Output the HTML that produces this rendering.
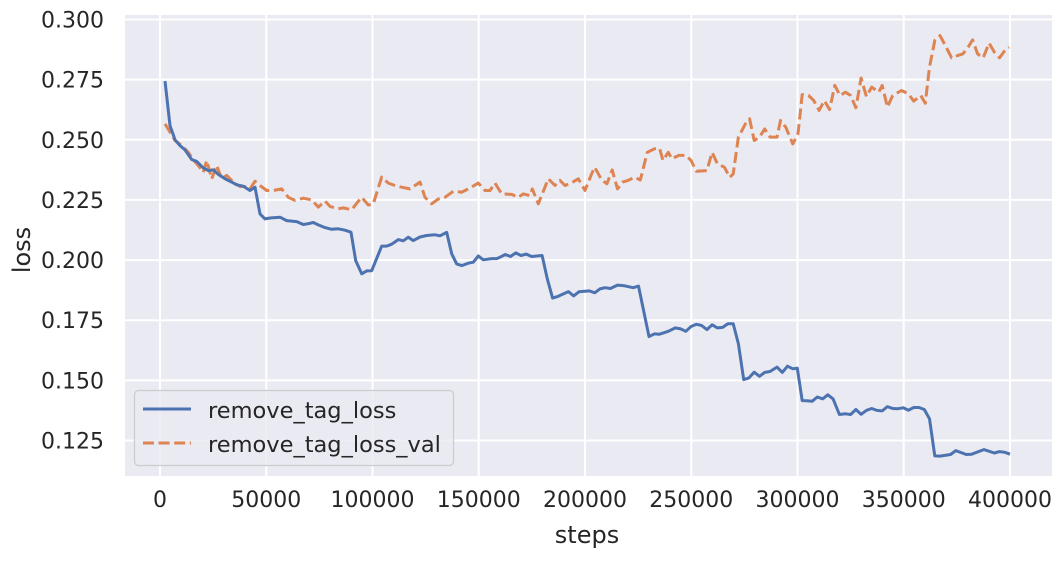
<!DOCTYPE html>
<html><head><meta charset="utf-8"><style>
html,body{margin:0;padding:0;background:#fff;}
svg text{font-family:"DejaVu Sans","Liberation Sans",sans-serif;fill:#262626;}
</style></head><body>
<svg id="chart" width="1063" height="557" viewBox="0 0 1063 557" xmlns="http://www.w3.org/2000/svg">
<rect x="125" y="15" width="927" height="461" fill="#eaeaf2"/>
<g id="grid"></g>
<g id="series"></g>
<g id="ticks"></g>
<text x="587" y="543" font-size="24" text-anchor="middle">steps</text>
<text x="0" y="0" font-size="24" text-anchor="middle" transform="translate(30,250) rotate(-90)">loss</text>
<g>
<rect x="134.5" y="390.5" width="319" height="75" rx="4" fill="#eaeaf2" fill-opacity="0.8" stroke="#cccccc" stroke-width="1.2"/>
<line x1="143" y1="409" x2="191" y2="409" stroke="#4c72b0" stroke-width="3"/>
<text x="208" y="418" font-size="22.5">remove_tag_loss</text>
<line x1="143" y1="443" x2="191" y2="443" stroke="#dd8452" stroke-width="3" stroke-dasharray="11,4.6"/>
<text x="208" y="452" font-size="22.5">remove_tag_loss_val</text>
</g>
</svg>
<script>
const trainSteps=[2352,4705,7058,9411,11764,14901,17254,20391,22744,25097,27450,30587,33724,36077,39214,42351,44704,47057,49410,51763,56469,59606,64312,67449,69802,72155,74508,77645,80782,83919,87056,89880,92076,94899,97252,99605,104311,106664,109017,112154,114507,116860,119213,122350,125487,129409,131762,134899,137252,139605,141958,145095,147448,149801,152154,156076,158429,160000,162475,164950,167425,169900,172375,174850,179800,182275,184750,187225,192175,194650,197125,202075,204550,207025,209500,211975,215275,218575,222700,225175,230125,232600,235075,239200,242500,244975,247450,249925,252400,254875,257350,259825,262300,264775,267250,269725,272200,274675,277150,279625,282100,284575,287050,290350,292825,295300,297775,299920,302230,304375,306850,309325,311800,314275,316750,319720,322525,325000,327475,329950,332425,334900,337375,339850,342325,344800,347275,349750,352225,354700,357175,359650,362125,364600,367075,372025,374500,379450,381925,387700,392650,395125,397600,400000];
const trainLoss=[0.2744,0.2559,0.2500,0.2476,0.2458,0.2418,0.2410,0.2383,0.2372,0.2375,0.2356,0.2338,0.2324,0.2313,0.2307,0.2289,0.2303,0.2192,0.2171,0.2175,0.2178,0.2164,0.2160,0.2148,0.2151,0.2156,0.2146,0.2135,0.2128,0.2130,0.2124,0.2116,0.1998,0.1943,0.1955,0.1956,0.2058,0.2058,0.2066,0.2085,0.2080,0.2095,0.2081,0.2096,0.2102,0.2105,0.2101,0.2115,0.2026,0.1984,0.1977,0.1987,0.1991,0.2017,0.2001,0.2006,0.2006,0.2012,0.2023,0.2015,0.2030,0.2019,0.2025,0.2015,0.2019,0.1922,0.1842,0.1849,0.1869,0.1851,0.1868,0.1872,0.1864,0.1880,0.1885,0.1882,0.1896,0.1893,0.1885,0.1892,0.1682,0.1693,0.1692,0.1704,0.1718,0.1714,0.1704,0.1724,0.1733,0.1728,0.1711,0.1731,0.1718,0.1720,0.1735,0.1735,0.1652,0.1503,0.1510,0.1534,0.1517,0.1533,0.1537,0.1555,0.1533,0.1559,0.1548,0.1551,0.1416,0.1415,0.1413,0.1431,0.1423,0.1440,0.1423,0.1358,0.1361,0.1358,0.1379,0.1359,0.1375,0.1383,0.1375,0.1373,0.1391,0.1383,0.1382,0.1386,0.1376,0.1387,0.1387,0.1379,0.1340,0.1186,0.1185,0.1192,0.1208,0.1192,0.1193,0.1212,0.1198,0.1204,0.1201,0.1193];
const valSteps=[2352,4705,7058,10195,13332,15685,18038,20391,21960,24313,26666,29018,31371,34508,37646,39999,42351,44704,47057,50194,53331,57253,60390,63527,67449,71370,74508,77645,79998,83919,86272,90194,92547,94899,98037,100389,104311,107448,110585,113723,117644,122350,124703,127840,130977,134114,138036,141958,145095,149801,152938,155291,157644,160781,165487,168624,170977,174114,175212,178036,182742,185879,188232,190585,193722,196859,199997,203134,204550,207850,210325,212800,215275,217750,220225,223525,226000,229300,232600,235075,236725,239200,240850,244150,247450,249925,252400,257350,259825,262300,265600,268075,269725,272200,275500,277480,279625,282100,284575,287050,290350,292000,294475,297775,300250,302230,305200,307675,310150,312625,315100,317575,320050,322525,325000,327475,329950,332425,334900,338200,339850,342325,344800,348925,352225,354700,358000,360145,362125,364600,367075,369550,372520,375325,377800,380275,382420,384730,387370,390175,392650,395125,397600,399580];
const valLoss=[0.2566,0.2532,0.2497,0.2476,0.2448,0.2417,0.2393,0.2365,0.2414,0.2338,0.2393,0.2338,0.2352,0.2324,0.2306,0.2306,0.2296,0.2328,0.2310,0.2289,0.2289,0.2296,0.2261,0.2248,0.2257,0.2250,0.2220,0.2245,0.2223,0.2213,0.2217,0.2209,0.2236,0.2261,0.2229,0.2234,0.2345,0.2320,0.2310,0.2303,0.2296,0.2324,0.2261,0.2234,0.2254,0.2261,0.2286,0.2282,0.2296,0.2320,0.2289,0.2289,0.2320,0.2275,0.2273,0.2261,0.2275,0.2268,0.2296,0.2234,0.2338,0.2310,0.2331,0.2310,0.2321,0.2338,0.2289,0.2359,0.2386,0.2333,0.2317,0.2375,0.2296,0.2324,0.2331,0.2344,0.2333,0.2448,0.2462,0.2465,0.2414,0.2448,0.2421,0.2435,0.2435,0.2414,0.2369,0.2372,0.2448,0.2400,0.2386,0.2344,0.2358,0.2511,0.2566,0.2587,0.2497,0.2511,0.2545,0.2511,0.2511,0.2580,0.2552,0.2483,0.2525,0.2688,0.2684,0.2663,0.2622,0.2663,0.2626,0.2726,0.2684,0.2698,0.2684,0.2633,0.2757,0.2680,0.2719,0.2698,0.2726,0.2636,0.2684,0.2705,0.2691,0.2661,0.2684,0.2652,0.2802,0.2913,0.2933,0.2892,0.2841,0.2850,0.2857,0.2885,0.2915,0.2857,0.2841,0.2902,0.2864,0.2841,0.2871,0.2885];
const xTicks=[0,50000,100000,150000,200000,250000,300000,350000,400000];
const xTickLabels=["0","50000","100000","150000","200000","250000","300000","350000","400000"];
const yTicks=[0.125,0.150,0.175,0.200,0.225,0.250,0.275,0.300];
const yTickLabels=["0.125","0.150","0.175","0.200","0.225","0.250","0.275","0.300"];

const NS="http://www.w3.org/2000/svg";
const PL=125,PR=1052,PT=15,PB=476;
function xs(v){return 160+v*0.002125;}
function ys(v){return 19.5+(0.300-v)*2405.7;}
const grid=document.getElementById('grid'),ticks=document.getElementById('ticks'),series=document.getElementById('series');
xTicks.forEach((t,i)=>{
  const l=document.createElementNS(NS,'line');
  
  
  l.setAttribute('x1',xs(t));l.setAttribute('x2',xs(t));l.setAttribute('y1',PT);l.setAttribute('y2',PB);
  l.setAttribute('stroke','#fff');l.setAttribute('stroke-width','2');grid.appendChild(l);
  const tx=document.createElementNS(NS,'text');
  
  
  tx.setAttribute('x',xs(t));tx.setAttribute('y',507);tx.setAttribute('font-size','22');tx.setAttribute('text-anchor','middle');
  tx.textContent=xTickLabels[i];ticks.appendChild(tx);
});
yTicks.forEach((t,i)=>{
  const l=document.createElementNS(NS,'line');
  
  
  l.setAttribute('x1',PL);l.setAttribute('x2',PR);l.setAttribute('y1',ys(t));l.setAttribute('y2',ys(t));
  l.setAttribute('stroke','#fff');l.setAttribute('stroke-width','2');grid.appendChild(l);
  const tx=document.createElementNS(NS,'text');
  
  
  tx.setAttribute('x',104);tx.setAttribute('y',ys(t)+8);tx.setAttribute('font-size','22');tx.setAttribute('text-anchor','end');
  tx.textContent=yTickLabels[i];ticks.appendChild(tx);
});
function path(xsArr,ysArr){return xsArr.map((s,i)=>(i?'L':'M')+xs(s).toFixed(1)+','+ys(ysArr[i]).toFixed(1)).join('');}
const pv=document.createElementNS(NS,'path');


pv.setAttribute('d',path(valSteps,valLoss));pv.setAttribute('fill','none');pv.setAttribute('stroke','#dd8452');
pv.setAttribute('stroke-width','3');pv.setAttribute('stroke-dasharray','11,4.6');pv.setAttribute('stroke-linejoin','round');
series.appendChild(pv);
const pt=document.createElementNS(NS,'path');


pt.setAttribute('d',path(trainSteps,trainLoss));pt.setAttribute('fill','none');pt.setAttribute('stroke','#4c72b0');
pt.setAttribute('stroke-width','3');pt.setAttribute('stroke-linejoin','round');
series.appendChild(pt);
</script>
</body></html>
